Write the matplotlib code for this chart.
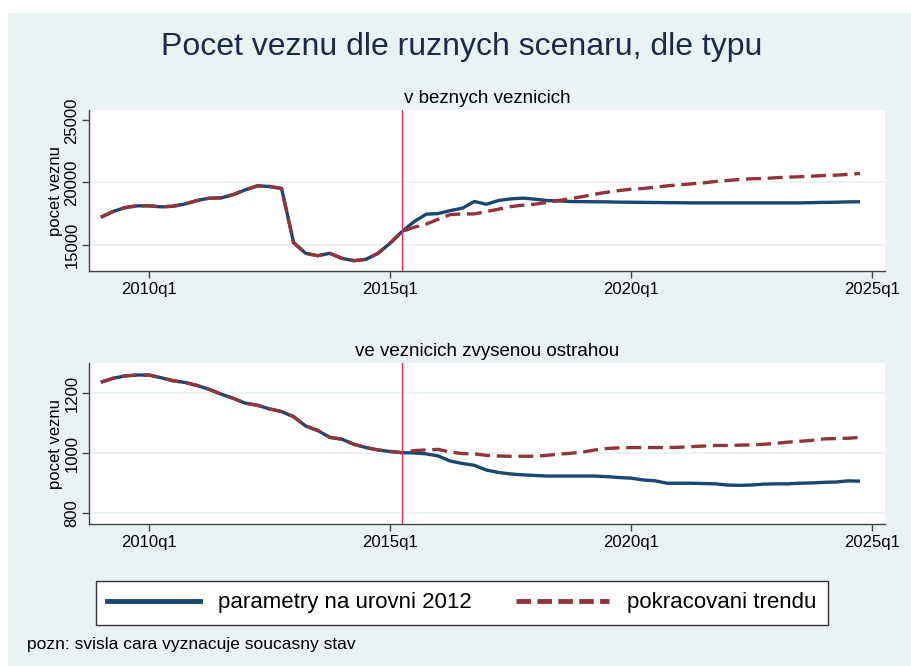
import numpy as np
import matplotlib
matplotlib.use('Agg')
import matplotlib.pyplot as plt
from matplotlib.lines import Line2D
from matplotlib.patches import Rectangle

plt.rcParams['font.family'] = ['Liberation Sans', 'DejaVu Sans']

# Quarterly data 2009q1 - 2024q4 (quarter index: 2010q1 = 0)
start_q = -4
vline_q = 21  # 2015q2, current state
tick_labels = ['2010q1', '2015q1', '2020q1', '2025q1']

# v beznych veznicich, common history 2009q1 - 2015q2
top_hist = [17200, 17660, 17980, 18120, 18120, 18040, 18090, 18280,
            18550, 18740, 18760, 19030, 19410, 19730, 19680, 19520,
            15160, 14300, 14110, 14300, 13900, 13710, 13820, 14300,
            15110, 16050]
# projections 2015q3 - 2024q4
top_param = [16850, 17450, 17500, 17740, 17930, 18470, 18250, 18550,
             18680, 18740, 18660, 18550, 18520, 18470, 18460, 18450,
             18440, 18420, 18410, 18400, 18390, 18380, 18370, 18360,
             18360, 18360, 18360, 18360, 18360, 18360, 18360, 18360,
             18360, 18380, 18400, 18410, 18440, 18450]
top_trend = [16400, 16650, 17040, 17420, 17470, 17470, 17660, 17850,
             18060, 18170, 18250, 18390, 18550, 18710, 18870, 19060,
             19220, 19350, 19460, 19520, 19620, 19730, 19810, 19890,
             19970, 20080, 20160, 20240, 20300, 20320, 20380, 20430,
             20460, 20510, 20560, 20590, 20650, 20730]

# ve veznicich zvysenou ostrahou
bot_hist = [1237, 1250, 1258, 1261, 1261, 1252, 1242, 1236,
            1226, 1213, 1197, 1183, 1167, 1160, 1148, 1139,
            1122, 1091, 1076, 1053, 1047, 1030, 1019, 1011,
            1006, 1002]
bot_param = [1001, 998, 991, 974, 966, 960, 944, 936,
             931, 928, 926, 924, 924, 924, 924, 924,
             922, 919, 917, 911, 908, 900, 900, 900,
             899, 898, 894, 893, 894, 897, 898, 898,
             900, 901, 903, 904, 908, 907]
bot_trend = [1009, 1011, 1013, 1004, 999, 998, 993, 991,
             990, 990, 990, 993, 997, 1000, 1004, 1011,
             1016, 1018, 1019, 1019, 1019, 1019, 1020, 1022,
             1024, 1026, 1026, 1027, 1028, 1030, 1033, 1037,
             1040, 1043, 1048, 1049, 1050, 1053]

navy = '#1a476f'
maroon = '#90353b'
bg = '#eaf2f3'

fig = plt.figure(figsize=(9.11, 6.66), dpi=100, facecolor='white')
fig.patches.append(Rectangle((8 / 911, 0), 1, 1 - 13 / 666, transform=fig.transFigure,
                             facecolor=bg, edgecolor='none', zorder=-10))

fig.text(0.5066, 0.93, 'Pocet veznu dle ruznych scenaru, dle typu', ha='center', va='center',
         fontsize=23, color='#1c2b4b')

panels = [
    (0.5931, top_hist, top_param, top_trend, 'v beznych veznicich',
     (12880, 25830), [15000, 20000, 25000], [15000, 20000]),
    (0.2132, bot_hist, bot_param, bot_trend, 've veznicich zvysenou ostrahou',
     (764, 1301), [800, 1000, 1200], [800, 1000, 1200]),
]

for bottom, hist, param, trend, title, ylim, yticks, grid in panels:
    ax = fig.add_axes([0.0977, bottom, 0.8738, 0.2417])
    ax.set_facecolor('white')
    blue = np.array(hist + param)
    red = np.array(hist + trend)
    q = np.arange(start_q, start_q + len(blue))
    for g in grid:
        ax.axhline(g, color=bg, lw=1.3, zorder=1)
    ax.plot(q, blue, color=navy, lw=2.4, zorder=3, solid_capstyle='butt')
    ax.plot(q, red, color=maroon, lw=2.4, dashes=(4.5, 2.0), zorder=4)
    ax.axvline(vline_q, color='#e8305a', lw=1.0, zorder=5)
    ax.set_xlim(-4.98, 61.08)
    ax.set_ylim(*ylim)
    ax.set_xticks([0, 20, 40, 60])
    ax.set_xticklabels(tick_labels)
    ax.set_yticks(yticks)
    ax.set_yticklabels([str(v) for v in yticks], rotation=90, va='center')
    ax.tick_params(labelsize=12, length=5, width=1, color='#444444', pad=3)
    ax.tick_params(axis='y', pad=2)
    ax.spines['top'].set_visible(False)
    ax.spines['right'].set_visible(False)
    for s in ('left', 'bottom'):
        ax.spines[s].set_color('#444444')
        ax.spines[s].set_linewidth(1)
    ax.set_ylabel('pocet veznu', fontsize=12, labelpad=1)
    ax.set_title(title, fontsize=13.5, pad=5)

handles = [Line2D([], [], color=navy, lw=3.5),
           Line2D([], [], color=maroon, lw=3.5, dashes=(3.0, 1.3))]
leg = fig.legend(handles, ['parametry na urovni 2012', 'pokracovani trendu'],
                 loc='center', bbox_to_anchor=(0.5066, 0.0946), ncol=2, fontsize=16,
                 frameon=True, fancybox=False, edgecolor='#333333', framealpha=1,
                 handlelength=4.2, handletextpad=0.8, columnspacing=2.0, borderpad=0.5)
leg.get_frame().set_linewidth(1)

fig.text(27 / 911, 1 - 645 / 666, 'pozn: svisla cara vyznacuje soucasny stav',
         fontsize=12.5, va='center', ha='left')

fig.savefig('out.png', dpi=100, facecolor=fig.get_facecolor())
